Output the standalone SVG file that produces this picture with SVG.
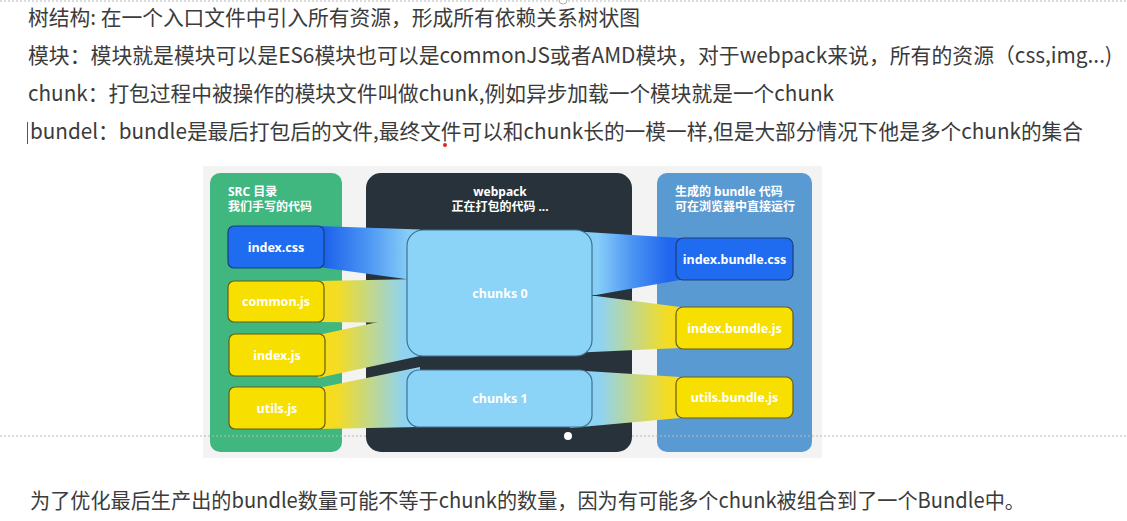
<svg xmlns="http://www.w3.org/2000/svg" width="1127" height="521" viewBox="0 0 1127 521">
<defs>
<style>
.line{font-family:"Noto Sans CJK SC","Noto Sans",sans-serif;font-size:21px;fill:#3b3b3b}
.ttl{font-family:"Noto Sans","Noto Sans CJK SC",sans-serif;font-size:12px;font-weight:700;fill:#ffffff}
.lbl{font-family:"Noto Sans","Noto Sans CJK SC",sans-serif;font-size:12.5px;font-weight:700;fill:#ffffff;text-anchor:middle}
.blue{fill:#1f6cf0;stroke:#1b3e7a;stroke-width:1.2}
.yel{fill:#f7df00;stroke:#6a5c14;stroke-width:1.2}
.chunk{fill:#8bd3f7;stroke:#3f7291;stroke-width:1.2}
.dots{stroke:#b8b8b8;stroke-width:1;stroke-dasharray:2 2;fill:none}
</style>
<linearGradient id="gLb" gradientUnits="userSpaceOnUse" x1="324" y1="0" x2="408" y2="0">
<stop offset="0" stop-color="#1c62ec"/><stop offset="0.5" stop-color="#4a93f2"/><stop offset="1" stop-color="#86cdf7"/>
</linearGradient>
<linearGradient id="gLy" gradientUnits="userSpaceOnUse" x1="336" y1="0" x2="404" y2="0">
<stop offset="0" stop-color="#f6dc20"/><stop offset="1" stop-color="#8fd3f2"/>
</linearGradient>
<linearGradient id="gRb" gradientUnits="userSpaceOnUse" x1="598" y1="0" x2="668" y2="0">
<stop offset="0" stop-color="#86cdf7"/><stop offset="0.5" stop-color="#4a93f2"/><stop offset="1" stop-color="#2066ee"/>
</linearGradient>
<linearGradient id="gRy" gradientUnits="userSpaceOnUse" x1="600" y1="0" x2="668" y2="0">
<stop offset="0" stop-color="#8fd3f2"/><stop offset="1" stop-color="#f6dc20"/>
</linearGradient>
</defs>

<rect width="1127" height="521" fill="#ffffff"/>
<line class="dots" x1="0" y1="1" x2="1127" y2="1"/>
<circle cx="563" cy="0" r="4" fill="#ffffff" stroke="#b0b0b0" stroke-width="1"/>

<g id="text-lines">
<text class="line" x="28" y="25" textLength="612" lengthAdjust="spacingAndGlyphs">树结构: 在一个入口文件中引入所有资源，形成所有依赖关系树状图</text>
<text class="line" x="28" y="63" textLength="1084" lengthAdjust="spacingAndGlyphs">模块：模块就是模块可以是ES6模块也可以是commonJS或者AMD模块，对于webpack来说，所有的资源（css,img...)</text>
<text class="line" x="28" y="101" textLength="806" lengthAdjust="spacingAndGlyphs">chunk：打包过程中被操作的模块文件叫做chunk,例如异步加载一个模块就是一个chunk</text>
<text class="line" x="30" y="139" textLength="1053" lengthAdjust="spacingAndGlyphs">bundel：bundle是最后打包后的文件,最终文件可以和chunk长的一模一样,但是大部分情况下他是多个chunk的集合</text>
<line x1="27.5" y1="122" x2="27.5" y2="144" stroke="#555" stroke-width="1"/>
<circle cx="445" cy="145" r="2" fill="#e02424"/>
<text class="line" x="30" y="508" textLength="995" lengthAdjust="spacingAndGlyphs">为了优化最后生产出的bundle数量可能不等于chunk的数量，因为有可能多个chunk被组合到了一个Bundle中。</text>
</g>

<rect x="203" y="166" width="619" height="292" fill="#f3f3f3"/>

<g id="panel-src">
<rect x="210" y="173" width="132" height="279" rx="10" fill="#40b77e"/>
<text class="ttl" x="228" y="196">SRC 目录</text>
<text class="ttl" x="228" y="211">我们手写的代码</text>
</g>
<g id="panel-webpack">
<rect x="366" y="173" width="266" height="279" rx="15" fill="#27323a"/>
<text class="ttl" x="500" y="196" text-anchor="middle">webpack</text>
<text class="ttl" x="500" y="211" text-anchor="middle">正在打包的代码 ...</text>
<circle cx="568" cy="436" r="4" fill="#ffffff"/>
</g>
<g id="panel-bundle">
<rect x="657" y="173" width="155" height="279" rx="10" fill="#5a9ad3"/>
<text class="ttl" x="675" y="196">生成的 bundle 代码</text>
<text class="ttl" x="675" y="211">可在浏览器中直接运行</text>
</g>

<g id="connectors">
<polygon points="318,226 420,229.5 420,281 318,267" fill="url(#gLb)"/>
<polygon points="318,281 420,279 420,323 318,322" fill="url(#gLy)"/>
<polygon points="318,335 420,313 420,356 318,378" fill="url(#gLy)"/>
<polygon points="318,388 420,367 420,427 318,429" fill="url(#gLy)"/>
<polygon points="570,231 680,238 680,280 596,295 570,295" fill="url(#gRb)"/>
<polygon points="570,295 596,296 680,307 680,348 570,353" fill="url(#gRy)"/>
<polygon points="570,370 680,377 680,418 570,428" fill="url(#gRy)"/>
</g>

<g id="node-index-css"><rect class="blue" x="228" y="226" width="96" height="42" rx="6"/><text class="lbl" x="276" y="251.5">index.css</text></g>
<g id="node-common-js"><rect class="yel" x="228" y="281" width="96" height="41" rx="6"/><text class="lbl" x="276" y="306">common.js</text></g>
<g id="node-index-js"><rect class="yel" x="229" y="334" width="96" height="42" rx="6"/><text class="lbl" x="277" y="359.5">index.js</text></g>
<g id="node-utils-js"><rect class="yel" x="229" y="387" width="96" height="42" rx="6"/><text class="lbl" x="277" y="412.5">utils.js</text></g>

<g id="node-chunks0"><rect class="chunk" x="407" y="230" width="185" height="126" rx="16"/><text class="lbl" x="500" y="297.5">chunks 0</text></g>
<g id="node-chunks1"><rect class="chunk" x="407" y="370" width="185" height="57" rx="12"/><text class="lbl" x="500" y="402.5">chunks 1</text></g>

<g id="node-index-bundle-css"><rect class="blue" x="676" y="238" width="117" height="42" rx="7"/><text class="lbl" x="734.5" y="263.5">index.bundle.css</text></g>
<g id="node-index-bundle-js"><rect class="yel" x="676" y="307" width="117" height="42" rx="7"/><text class="lbl" x="734.5" y="332.5">index.bundle.js</text></g>
<g id="node-utils-bundle-js"><rect class="yel" x="676" y="377" width="117" height="41" rx="7"/><text class="lbl" x="734.5" y="402">utils.bundle.js</text></g>

<line class="dots" x1="0" y1="436" x2="366" y2="436"/>
<line class="dots" x1="632" y1="436" x2="1127" y2="436"/>
</svg>
